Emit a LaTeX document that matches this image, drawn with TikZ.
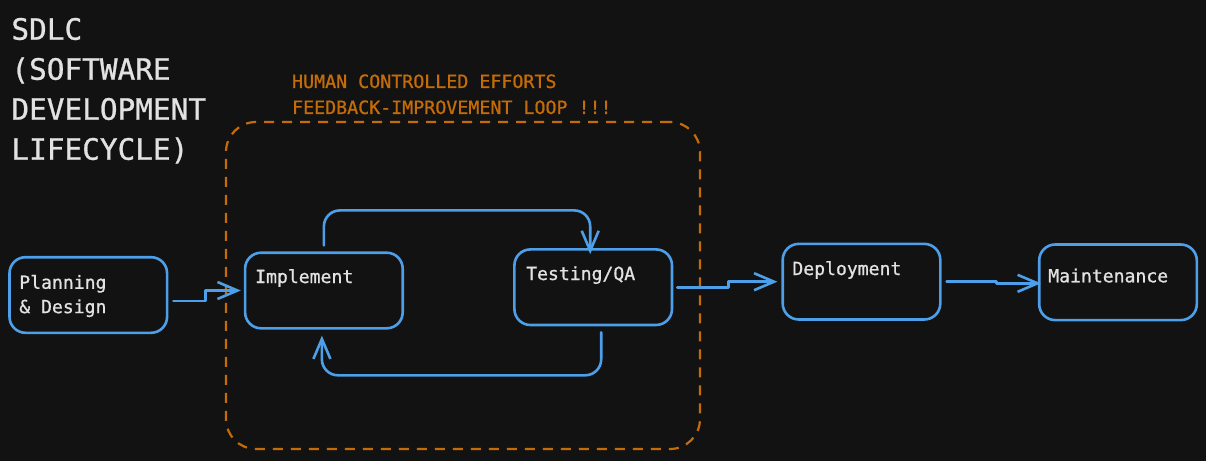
\documentclass[tikz,border=0pt]{standalone}
\usepackage{fontspec}
\setmonofont{DejaVu Sans Mono}
\newfontfamily\sketchfont{DejaVu Sans Mono}[FakeBold=0.9]
\usetikzlibrary{arrows.meta}
\definecolor{canvas}{HTML}{121212}
\definecolor{wire}{HTML}{4C9FE8}
\definecolor{human}{HTML}{C46C08}
\definecolor{ink}{HTML}{E2E2E2}

\begin{document}
\begin{tikzpicture}[
    x=0.5pt, y=-0.5pt,
    font=\sketchfont,
    stage/.style={draw=wire, line width=1.3pt, rounded corners=8pt, minimum width=78.8pt, minimum height=37.8pt, inner sep=0pt},
    stagetxt/.style={text=ink, font=\fontsize{9.05}{12.2}\selectfont\sketchfont, inner sep=0pt, align=left},
    loopbox/.style={draw=human, line width=1.1pt, dash pattern=on 5pt off 4pt, rounded corners=15pt, minimum width=237pt, minimum height=163.5pt, inner sep=0pt},
    note/.style={text=human, font=\fontsize{9.15}{13}\selectfont\sketchfont, inner sep=0pt, align=left},
    heading/.style={text=ink, font=\fontsize{14.7}{20}\selectfont\sketchfont, inner sep=0pt, align=left},
    flow/.style={draw=wire, line width=1.3pt, line cap=round, line join=round, -{Straight Barb[length=10pt, width=8.5pt, line width=1.3pt]}}]

    \fill[canvas] (0,0) rectangle (1206,461);
    \useasboundingbox (0,0) rectangle (1206,461);

    % title and the loop region
    \node[heading, anchor=north west] (title) at (11,17.5) {SDLC\\(SOFTWARE\\DEVELOPMENT\\LIFECYCLE)};
    \node[loopbox] (loop) at (463,285.5) {};
    \node[note, anchor=north west] (loopnote) at (291.7,74) {HUMAN CONTROLLED EFFORTS\\FEEDBACK-IMPROVEMENT LOOP !!!};

    % stages
    \node[stage] (plan) at (88.3,295) {};
    \node[stage] (impl) at (323.9,290.5) {};
    \node[stage] (test) at (593.2,287.2) {};
    \node[stage] (dep) at (861.5,281.7) {};
    \node[stage] (maint) at (1118,282.3) {};

    \node[stagetxt, anchor=north west] (plan-t) at ([shift={(10.7,-20.5)}]plan.west) {Planning\\\& Design};
    \node[stagetxt, anchor=base west] (impl-t) at ([shift={(11,-7.5)}]impl.west) {Implement};
    \node[stagetxt, anchor=base west] (test-t) at ([shift={(12.7,-7.2)}]test.west) {Testing/QA};
    \node[stagetxt, anchor=base west] (dep-t) at ([shift={(10.6,-6.7)}]dep.west) {Deployment};
    \node[stagetxt, anchor=base west] (maint-t) at ([shift={(10,0)}]maint.west) {Maintenance};

    % connectors
    \draw[flow] (plan.east) ++(5,6) -- ++(32,0) |- ([shift={(-3,0)}]impl.west);
    \draw[flow, rounded corners=8pt] (impl.north) ++(0,-6) -- ++(0,-35) -| ([shift={(-3,6)}]test.north);
    \draw[flow, rounded corners=8pt] (test.south) ++(8,6) -- ++(0,43) -| ([shift={(-2,6)}]impl.south);
    \draw[flow] (test.east) ++(4,0) -- ++(51,0) |- ([shift={(-4,0)}]dep.west);
    \draw[flow] (dep.east) ++(5,0) -- ++(50,0) |- ([shift={(3,1)}]maint.west);
\end{tikzpicture}
\end{document}
